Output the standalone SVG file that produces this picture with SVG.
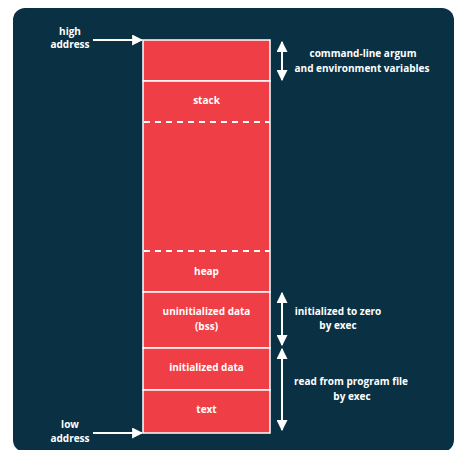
<svg xmlns="http://www.w3.org/2000/svg" width="455" height="450" viewBox="0 0 455 450">
<style>
.t{font-family:"Open Sans","Liberation Sans",sans-serif;font-weight:bold;font-size:10px;fill:#ffffff;text-anchor:middle}
.seg{fill:#ef3e45;stroke:#ffffff;stroke-width:1.5}
.dash{stroke:#ffffff;stroke-width:1.8;stroke-dasharray:6 5;fill:none}
.ln{stroke:#ffffff;stroke-width:2;fill:none}
</style>
<defs>
<marker id="ah" viewBox="0 0 10 10" refX="9" refY="5" markerWidth="5.5" markerHeight="5.5" orient="auto-start-reverse" markerUnits="strokeWidth">
<path d="M0,0 L10,5 L0,10 z" fill="#ffffff"/>
</marker>
</defs>
<rect width="455" height="450" fill="#ffffff"/>
<rect x="13" y="8" width="441" height="444" rx="12" fill="#0a3143"/>
<g id="cmdline"><rect class="seg" x="143" y="40" width="127" height="41"/></g>
<g id="stack-heap">
<rect class="seg" x="143" y="81" width="127" height="211"/>
<text class="t" x="206.5" y="104">stack</text>
<text class="t" x="206.5" y="275">heap</text>
<line class="dash" x1="144" y1="122" x2="270" y2="122"/>
<line class="dash" x1="144" y1="251" x2="270" y2="251"/>
</g>
<g id="bss"><rect class="seg" x="143" y="292" width="127" height="56"/>
<text class="t" x="206.5" y="315">uninitialized data</text>
<text class="t" x="206.5" y="330">(bss)</text></g>
<g id="data"><rect class="seg" x="143" y="348" width="127" height="42"/>
<text class="t" x="206.5" y="371">initialized data</text></g>
<g id="text"><rect class="seg" x="143" y="390" width="127" height="43"/>
<text class="t" x="206.5" y="413">text</text></g>
<g id="high-label"><text class="t" x="70" y="35">high</text><text class="t" x="70" y="48">address</text></g>
<g id="low-label"><text class="t" x="70" y="428">low</text><text class="t" x="70" y="442">address</text></g>
<g id="cmd-label"><text class="t" x="363" y="57">command-line argum</text><text class="t" x="362" y="72">and environment variables</text></g>
<g id="zero-label"><text class="t" x="338" y="315">initialized to zero</text><text class="t" x="338" y="329">by exec</text></g>
<g id="read-label"><text class="t" x="351" y="385">read from program file</text><text class="t" x="352" y="400">by exec</text></g>
<g id="connectors">
<line class="ln" x1="93" y1="40" x2="142" y2="40" marker-end="url(#ah)"/>
<line class="ln" x1="93" y1="433" x2="142" y2="433" marker-end="url(#ah)"/>
<line class="ln" x1="282" y1="42" x2="282" y2="80" marker-start="url(#ah)" marker-end="url(#ah)"/>
<line class="ln" x1="282" y1="293" x2="282" y2="345" marker-start="url(#ah)" marker-end="url(#ah)"/>
<line class="ln" x1="282" y1="349" x2="282" y2="430" marker-start="url(#ah)" marker-end="url(#ah)"/>
</g>
</svg>
